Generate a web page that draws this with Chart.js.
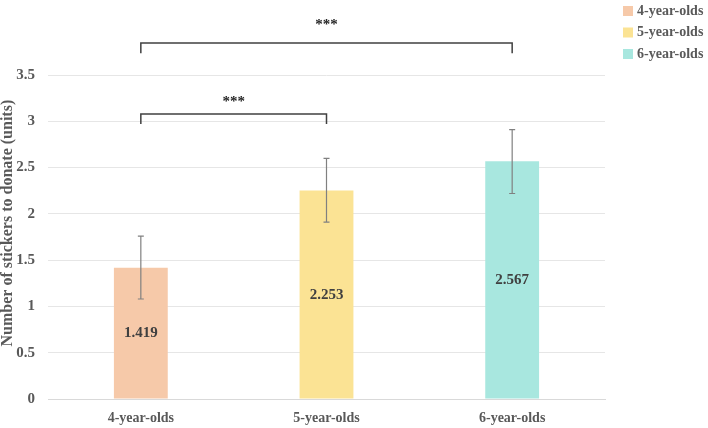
<!DOCTYPE html>
<html>
<head>
<meta charset="utf-8">
<script src="https://cdn.jsdelivr.net/npm/chart.js@4"></script>
<style>
  html, body { margin: 0; padding: 0; background: #fff; }
  #wrap { width: 708px; height: 428px; }
</style>
</head>
<body>
<div id="wrap"><canvas id="c"></canvas></div>
<script>
// ─── DATA ────────────────────────────────────────────────────────────────
const categories = ['4-year-olds', '5-year-olds', '6-year-olds'];
const means = [1.419, 2.253, 2.567];
const errLow = [1.08, 1.91, 2.22];
const errHigh = [1.76, 2.60, 2.91];
const barColors = ['#f6c9a9', '#fbe394', '#a8e7df'];
const yTicks = [0, 0.5, 1, 1.5, 2, 2.5, 3, 3.5];
const yTitle = 'Number of stickers to donate (units)';
// significance brackets: [from index, to index, bracket y value, label, label gap px]
const brackets = [
  [0, 1, 3.08, '***', 8],
  [0, 2, 3.845, '***', 14]
];

const FONT = '"Liberation Serif", "Times New Roman", serif';
const GREY = '#595959';

// ─── PLUGIN: y title, error bars, value labels, brackets, legend ─────────
const extras = {
  id: 'extras',
  afterDatasetsDraw(chart) {
    const ctx = chart.ctx;
    const x = chart.scales.x, y = chart.scales.y;
    ctx.save();

    // y axis title (sits a little above the plot centre, like the original)
    ctx.save();
    ctx.translate(8, y.getPixelForValue(1.90));
    ctx.rotate(-Math.PI / 2);
    ctx.font = 'bold 16px ' + FONT;
    ctx.fillStyle = GREY;
    ctx.textAlign = 'center';
    ctx.textBaseline = 'middle';
    ctx.fillText(yTitle, 0, 0);
    ctx.restore();

    // value labels inside bars
    ctx.fillStyle = '#404040';
    ctx.font = 'bold 15px ' + FONT;
    ctx.textAlign = 'center';
    ctx.textBaseline = 'middle';
    means.forEach((v, i) => {
      ctx.fillText(v.toFixed(3), x.getPixelForValue(i), y.getPixelForValue(v / 2));
    });

    // error bars
    ctx.strokeStyle = '#808080';
    ctx.lineWidth = 1.2;
    means.forEach((v, i) => {
      const px = x.getPixelForValue(i);
      const lo = y.getPixelForValue(errLow[i]), hi = y.getPixelForValue(errHigh[i]);
      ctx.beginPath();
      ctx.moveTo(px, lo); ctx.lineTo(px, hi);
      ctx.moveTo(px - 3, lo); ctx.lineTo(px + 3, lo);
      ctx.moveTo(px - 3, hi); ctx.lineTo(px + 3, hi);
      ctx.stroke();
    });

    // significance brackets
    ctx.strokeStyle = '#404040';
    ctx.lineWidth = 1.5;
    ctx.fillStyle = '#262626';
    ctx.font = 'bold 15px ' + FONT;
    brackets.forEach(([a, b, v, lbl, gap]) => {
      const x1 = x.getPixelForValue(a), x2 = x.getPixelForValue(b);
      const py = y.getPixelForValue(v);
      const leg = y.getPixelForValue(0) - y.getPixelForValue(0.11);
      ctx.beginPath();
      ctx.moveTo(x1, py + leg); ctx.lineTo(x1, py);
      ctx.lineTo(x2, py); ctx.lineTo(x2, py + leg);
      ctx.stroke();
      ctx.textBaseline = 'alphabetic';
      ctx.fillText(lbl, (x1 + x2) / 2, py - gap);
    });

    // legend
    ctx.font = 'bold 14px ' + FONT;
    ctx.textAlign = 'left';
    ctx.textBaseline = 'middle';
    categories.forEach((c, i) => {
      const ly = 11 + i * 21.5;
      ctx.fillStyle = barColors[i];
      ctx.fillRect(623, ly - 5, 10, 10);
      ctx.fillStyle = GREY;
      ctx.fillText(c, 637, ly);
    });

    ctx.restore();
  }
};

// ─── CHART ───────────────────────────────────────────────────────────────
new Chart(document.getElementById('c'), {
  type: 'bar',
  data: {
    labels: categories,
    datasets: [{
      data: means,
      backgroundColor: barColors,
      barPercentage: 0.29,
      categoryPercentage: 1
    }]
  },
  options: {
    responsive: true,
    maintainAspectRatio: false,
    animation: false,
    layout: { padding: { top: 75, right: 103, left: 0, bottom: 0 } },
    plugins: {
      legend: { display: false },
      tooltip: { enabled: false }
    },
    scales: {
      x: {
        grid: { display: false },
        border: { color: '#d9d9d9' },
        ticks: { color: GREY, font: { family: FONT, size: 14, weight: 'bold' }, padding: 3 },
        afterFit: ax => { ax.height = 29; }
      },
      y: {
        min: 0, max: 3.5,
        afterBuildTicks: ax => { ax.ticks = yTicks.map(v => ({ value: v })); },
        afterFit: ax => { ax.width = 48; },
        grid: { color: '#e6e6e6', drawTicks: false },
        border: { display: false },
        ticks: {
          color: GREY,
          font: { family: FONT, size: 15, weight: 'bold' },
          padding: 13,
          callback: v => String(v)
        }
      }
    }
  },
  plugins: [extras]
});
</script>
</body>
</html>
